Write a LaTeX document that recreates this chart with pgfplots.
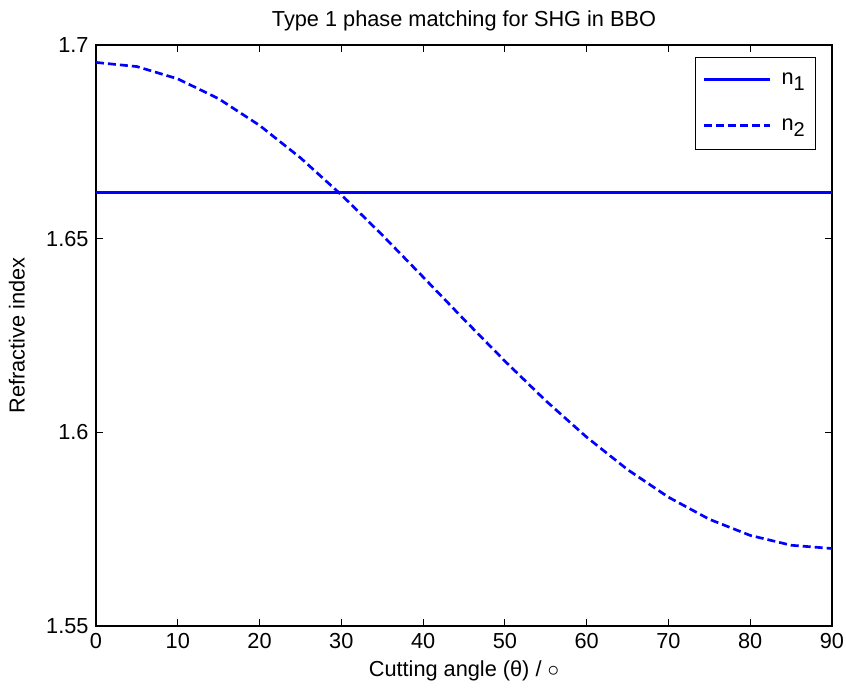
\documentclass[border=0pt]{standalone}
\usepackage{pgfplots}
\pgfplotsset{compat=1.18}
\usepackage{fontspec}
\setmainfont{Liberation Sans}
\newcommand{\fs}{\fontsize{16.3}{19}\selectfont}
\newcommand{\sub}[1]{\raisebox{-0.55ex}{\fontsize{15}{17}\selectfont #1}}
\begin{document}
\fs
\begin{tikzpicture}
\begin{axis}[
  scale only axis,
  width=552pt, height=435.75pt,
  xmin=0, xmax=90, ymin=1.55, ymax=1.7,
  xtick={0,10,...,90},
  ytick={1.55,1.6,1.65,1.7},
  yticklabels={1.55,1.6,1.65,1.7},
  tick align=inside,
  major tick length=5pt,
  tick style={black, line width=0.6pt},
  axis line style={black, line width=0.9pt},
  /pgf/number format/assume math mode=true,
  ticklabel style={font=\fs},
  title={Type 1 phase matching for SHG in BBO},
  title style={font=\fs, yshift=-1pt},
  xlabel={Cutting angle (θ) / $\circ$},
  ylabel={Refractive index},
  label style={font=\fs},
  xlabel style={yshift=2pt},
  ylabel style={yshift=5pt},
  legend style={at={(0.978,0.980)}, anchor=north east, draw=black,
    font=\fs, row sep=19pt, inner xsep=6pt, inner ysep=10pt,
    legend cell align=left},
  legend image code/.code={\draw[#1, line width=2.2pt] (0cm,0.3pt) -- (1.72cm,0.3pt);},
]
\addplot[blue, line width=2pt] coordinates {(0,1.662) (90,1.662)};
\addlegendentry{\hspace{6pt}n\sub{1}}
\addplot[blue, line width=2pt, dash pattern=on 6pt off 3pt] coordinates {
(0,1.6955) (5,1.69443) (10,1.69126) (15,1.68613) (20,1.67924) (25,1.67087)
(30,1.66132) (35,1.65095) (40,1.64010) (45,1.62914) (50,1.61839) (55,1.60816)
(60,1.59875) (65,1.59038) (70,1.58326) (75,1.57755) (80,1.57339) (85,1.57085) (90,1.5700)};
\addlegendentry{\hspace{6pt}n\sub{2}}
\end{axis}
\pgfresetboundingbox
\path (current axis.south west) ++(-72pt,-49.5pt) coordinate (bl);
\path (bl) rectangle ++(634.5pt,519pt);
\end{tikzpicture}
\end{document}
